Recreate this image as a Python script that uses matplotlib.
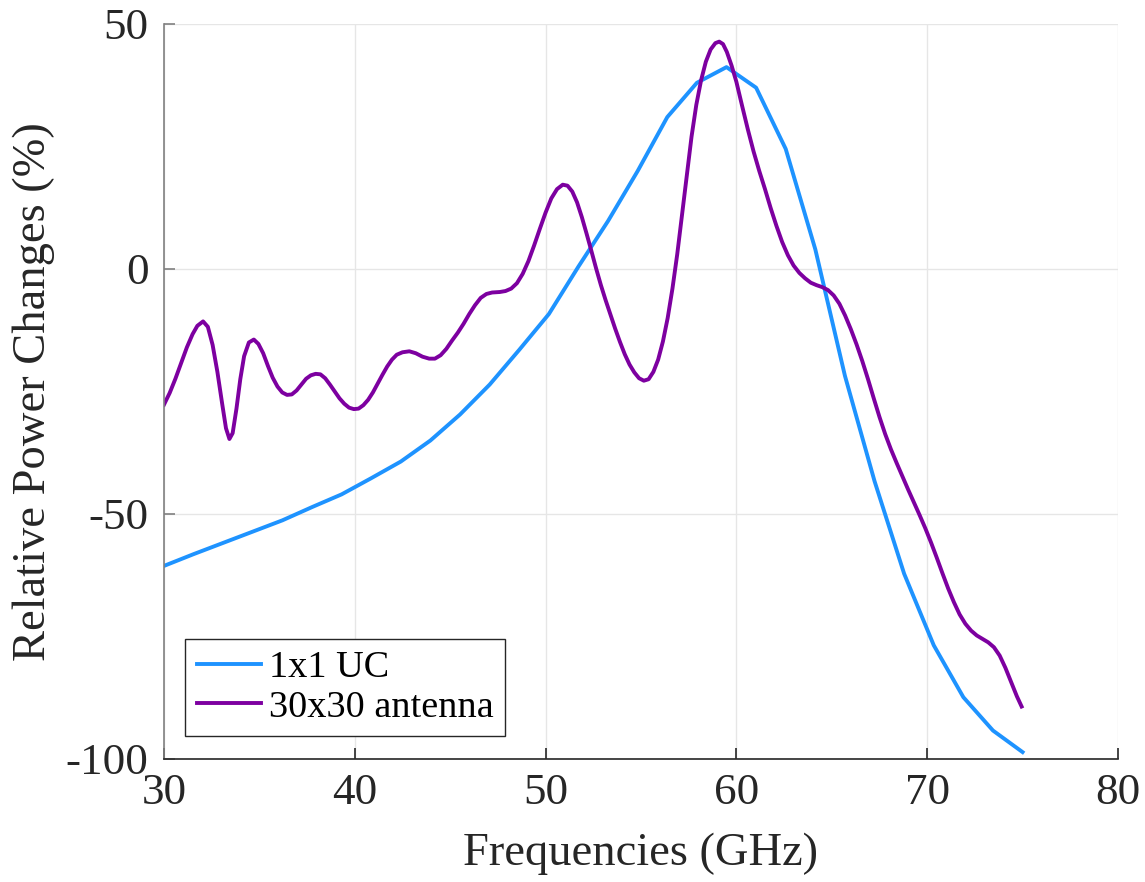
import numpy as np
import matplotlib.pyplot as plt

# 1x1 unit cell, sampled on a regular grid (30 points)
f_uc = np.linspace(30, 75, 30)
p_uc = [-60.6, -58.2, -55.9, -53.6, -51.3, -48.6, -46.0, -42.7, -39.3, -35.0,
        -29.7, -23.6, -16.5, -9.2, 0.5, 9.8, 20.0, 31.0, 38.0, 41.2,
        37.0, 24.5, 4.0, -21.8, -43.3, -62.2, -76.8, -87.4, -94.2, -98.6]

# 30x30 antenna
f_ant = [30.0, 30.3, 30.6, 30.9, 31.2, 31.5, 31.75, 32.05, 32.3, 32.55,
         32.8, 33.05, 33.25, 33.43, 33.6, 33.8, 34.0, 34.2, 34.45, 34.71,
         34.95, 35.2, 35.45, 35.7, 35.95, 36.2, 36.45, 36.7, 36.95, 37.2,
         37.45, 37.7, 37.95, 38.2, 38.45, 38.7, 38.95, 39.2, 39.45, 39.7,
         39.95, 40.2, 40.45, 40.7, 40.95, 41.2, 41.45, 41.7, 41.95, 42.2,
         42.5, 42.86, 43.2, 43.55, 43.9, 44.2, 44.5, 44.8, 45.1, 45.4,
         45.7, 46.0, 46.3, 46.6, 46.9, 47.2, 47.6, 47.9, 48.2, 48.5,
         48.8, 49.1, 49.4, 49.7, 50.0, 50.3, 50.6, 50.9, 51.15, 51.4,
         51.65, 51.9, 52.15, 52.4, 52.65, 52.9, 53.15, 53.4, 53.65, 53.9,
         54.15, 54.4, 54.65, 54.9, 55.15, 55.4, 55.65, 55.9, 56.15, 56.4,
         56.65, 56.9, 57.15, 57.4, 57.65, 57.9, 58.15, 58.4, 58.65, 58.9,
         59.1, 59.3, 59.5, 59.75, 60.0, 60.3, 60.6, 60.9, 61.2, 61.5,
         61.8, 62.1, 62.4, 62.7, 63.0, 63.3, 63.6, 63.9, 64.2, 64.5,
         64.8, 65.1, 65.4, 65.7, 66.0, 66.3, 66.6, 66.9, 67.2, 67.5,
         67.8, 68.1, 68.4, 68.7, 69.0, 69.3, 69.6, 69.9, 70.2, 70.5,
         70.8, 71.1, 71.4, 71.7, 72.0, 72.3, 72.6, 72.9, 73.2, 73.5,
         73.8, 74.1, 74.4, 74.7, 74.95]
p_ant = [-27.7, -25.3, -22.4, -19.2, -16.0, -13.3, -11.6, -10.7, -11.8, -15.5,
         -21.0, -27.5, -32.5, -34.7, -33.5, -28.5, -22.5, -17.8, -15.0, -14.4,
         -15.3, -17.2, -19.8, -22.2, -24.0, -25.2, -25.7, -25.6, -24.8, -23.6,
         -22.4, -21.7, -21.4, -21.5, -22.3, -23.6, -25.0, -26.4, -27.5, -28.3,
         -28.6, -28.5, -27.8, -26.7, -25.2, -23.4, -21.6, -19.9, -18.5, -17.5,
         -17.0, -16.8, -17.2, -17.9, -18.3, -18.3, -17.6, -16.3, -14.6, -13.0,
         -11.2, -9.2, -7.4, -5.9, -5.1, -4.8, -4.7, -4.5, -4.0, -2.9,
         -1.0, 1.6, 4.8, 8.2, 11.5, 14.4, 16.3, 17.2, 17.0, 15.8,
         13.6, 10.6, 7.2, 3.7, 0.1, -3.3, -6.4, -9.3, -12.2, -14.9,
         -17.4, -19.5, -21.1, -22.3, -22.8, -22.5, -21.0, -18.5, -14.8, -10.0,
         -4.0, 3.0, 11.0, 19.0, 27.0, 33.5, 38.5, 42.3, 44.8, 46.1,
         46.4, 45.9, 44.3, 41.5, 38.2, 33.3, 28.5, 24.0, 20.0, 16.3,
         12.4, 8.8, 5.5, 2.8, 0.7, -0.8, -1.9, -2.8, -3.3, -3.7,
         -4.3, -5.4, -7.1, -9.5, -12.3, -15.4, -18.8, -22.5, -26.4, -30.2,
         -33.7, -36.8, -39.6, -42.3, -45.0, -47.6, -50.2, -52.9, -55.8, -58.9,
         -62.1, -65.2, -68.0, -70.5, -72.4, -73.8, -74.8, -75.5, -76.2, -77.2,
         -78.9, -81.4, -84.3, -87.2, -89.3]

xticks = [30, 40, 50, 60, 70, 80]
yticks = [-100, -50, 0, 50]

plt.rcParams['font.family'] = ['Liberation Serif', 'DejaVu Serif']
plt.rcParams['axes.unicode_minus'] = False

fig = plt.figure(figsize=(11.45, 8.82), dpi=100)
ax = fig.add_axes([0.1432, 0.1395, 0.8332, 0.8333])

ax.plot(f_uc, p_uc, color='#1e93ff', lw=2.8, label='1x1 UC')
ax.plot(f_ant, p_ant, color='#7d00a0', lw=2.8, label='30x30 antenna')

ax.set_xlim(30, 80)
ax.set_ylim(-100, 50)
ax.set_xticks(xticks)
ax.set_yticks(yticks)
ax.grid(True, color='#e6e6e6', lw=1)
ax.set_axisbelow(True)

ax.spines['top'].set_visible(False)
ax.spines['right'].set_visible(False)
ax.spines['left'].set_color('#808080')
ax.spines['bottom'].set_color('#262626')
ax.spines['left'].set_linewidth(1.2)
ax.spines['bottom'].set_linewidth(1.2)
ax.tick_params(direction='in', length=8, width=1.2, labelsize=32.5, colors='#262626')
ax.tick_params(axis='x', pad=10)
ax.tick_params(axis='y', colors='#808080', labelcolor='#262626', pad=11)

ax.set_xlabel('Frequencies (GHz)', fontsize=33.5, color='#262626', labelpad=14)
ax.set_ylabel('Relative Power Changes (%)', fontsize=33.5, color='#262626', labelpad=8)

leg = ax.legend(loc='lower left', bbox_to_anchor=(0.0225, 0.031), fontsize=27.5,
                fancybox=False, framealpha=1, edgecolor='#262626',
                handlelength=1.68, borderaxespad=0, borderpad=0.3,
                labelspacing=0.12, handletextpad=0.2)
leg.get_frame().set_linewidth(1.0)

fig.savefig('out.png', dpi=100)
